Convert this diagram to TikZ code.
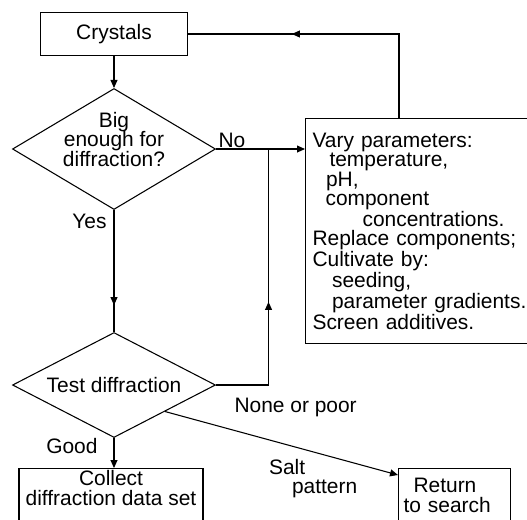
\documentclass[tikz,border=0pt]{standalone}
\usepackage{fontspec}
\setmainfont{Liberation Sans}
\usetikzlibrary{arrows.meta, shapes.geometric, decorations.markings, calc}
\newlength{\pxu}
\setlength{\pxu}{0.75pt}
\lineskiplimit=-4pt

\begin{document}
\begin{tikzpicture}[x=0.75pt, y=-0.75pt,
        font=\fontsize{15.7}{14.6}\selectfont,
        line width=0.8pt,
        flowarrow/.style={-{Triangle[length=6pt, width=5.2pt]}},
        midarrow/.style={postaction={decorate}, decoration={markings,
            mark=at position #1 with {\arrow{Triangle[length=6pt, width=5.2pt]}}}},
        box/.style={draw, rectangle},
        decision/.style={draw, diamond, inner sep=1\pxu},
        lbl/.style={inner sep=0pt}]
    % Frame:
    \useasboundingbox (0,0) rectangle (527,519);
    \clip (0,0) rectangle (527,519);

    % Boxes and decisions:
    \node[box, minimum width=147\pxu, minimum height=43\pxu] (crystals) at (114,34) {Crystals};
    \node[decision, minimum width=203\pxu, minimum height=121\pxu] (big) at (114,149) {};
    \node[lbl, align=center] (bigtext) at (114,139.5) {Big\\enough for\\diffraction?};
    \node[decision, aspect=1.93, minimum width=203\pxu, minimum height=105\pxu] (test) at (114,385) {Test diffraction};
    \node[box, anchor=north west, minimum height=225\pxu, inner xsep=7\pxu, text width=226\pxu, align=left] (vary) at (305,118)
        {Vary parameters:\\
         \hspace*{17\pxu}temperature,\\
         \hspace*{13.5\pxu}pH,\\
         \hspace*{13\pxu}component\\
         \hspace*{50\pxu}concentrations.\\
         Replace components;\\
         Cultivate by:\\
         \hspace*{19.5\pxu}seeding,\\
         \hspace*{19.5\pxu}parameter gradients.\\
         Screen additives.};
    \node[box, anchor=north, minimum width=184\pxu, inner ysep=2\pxu, align=center, text depth=60\pxu] (collect) at (111,468) {Collect\\diffraction data set};
    \node[box, anchor=north west, inner xsep=5\pxu, inner ysep=10\pxu, text width=102\pxu, align=left, text depth=60\pxu] (return) at (398,468)
        {\hspace*{10\pxu}Return\\to search};

    % Connectors:
    \draw[flowarrow] (crystals) -- (big);
    \draw[flowarrow] (big.east) -- (big.east -| vary.west);
    \path (big.east) -- (big.east -| vary.west) coordinate[pos=0.59] (join);
    \draw[midarrow=0.78] (big) -- (test);
    \draw[midarrow=0.47] (test.east) -| (join);
    \draw[midarrow=0.648] ($(vary.north west)+(94,0)$) |- (crystals.east);
    \draw[flowarrow] (test.south) -- (test.south |- collect.north);
    \draw[flowarrow] (test.south east) -- ($(return.north west)+(0,7)$);

    % Labels:
    \node[lbl, anchor=base west] (no) at ($(big.east)+(2,-2)$) {No};
    \node[lbl, anchor=base east] (yes) at ($(big.south)+(-7,18.5)$) {Yes};
    \node[lbl, anchor=base west] (none) at ($(test.east)+(18,27)$) {None or poor};
    \node[lbl, anchor=base east] (good) at ($(test.south)+(-16,15.5)$) {Good};
    \node[lbl, anchor=north west, align=left] (salt) at ($(test.south east)+(103.5,47)$) {Salt\\\hspace*{23\pxu}pattern};
\end{tikzpicture}
\end{document}
